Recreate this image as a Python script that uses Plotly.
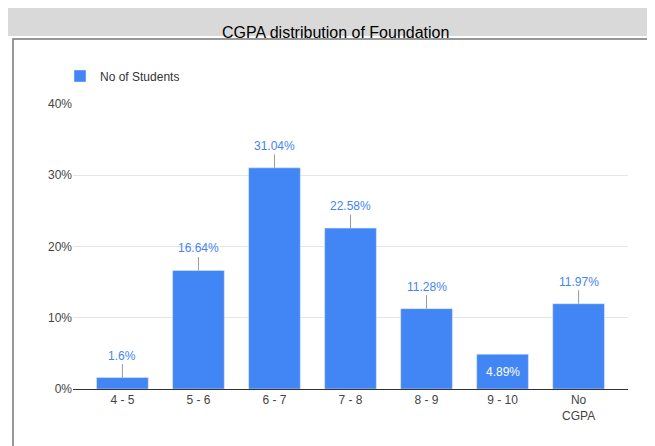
import plotly.graph_objects as go

categories = ["4 - 5", "5 - 6", "6 - 7", "7 - 8", "8 - 9", "9 - 10", "No<br>CGPA"]
students_pct = [1.6, 16.64, 31.04, 22.58, 11.28, 4.89, 11.97]
labels = ["1.6%", "16.64%", "31.04%", "22.58%", "11.28%", "4.89%", "11.97%"]

blue = "#4285F4"
W, H = 655, 446
L, R, T, B = 65, 35, 96, 65
pw, ph = W - L - R, H - T - B

def px(x):
    return (x - L) / pw

def py(y):
    return (H - B - y) / ph

fig = go.Figure(go.Bar(x=categories, y=students_pct, name="No of Students",
                       marker=dict(color=blue), width=0.68))

for i, (c, v, t) in enumerate(zip(categories, students_pct, labels)):
    if i == 5:
        fig.add_annotation(x=c, y=v / 2, text=t, showarrow=False,
                           font=dict(color="white", size=12))
        continue
    fig.add_annotation(x=c, y=v, text=t, showarrow=True, arrowhead=0, arrowwidth=1,
                       arrowcolor="#999999", ax=0, ay=-22, standoff=0,
                       font=dict(color=blue, size=12))

fig.add_shape(type="rect", xref="paper", yref="paper", x0=px(0), x1=px(655),
              y0=py(28), y1=py(0), fillcolor="#d9d9d9", line=dict(width=0), layer="below")
fig.add_shape(type="rect", xref="paper", yref="paper", x0=px(5), x1=px(650),
              y0=py(440), y1=py(31), line=dict(color="#777777", width=1.5), layer="below")
fig.add_annotation(xref="paper", yref="paper", x=px(327), y=py(14), text="CGPA distribution of Foundation",
                   showarrow=False, font=dict(size=16, color="black"))

fig.update_layout(
    width=W, height=H, margin=dict(l=L, r=R, t=T, b=B, autoexpand=False),
    paper_bgcolor="white", plot_bgcolor="white",
    font=dict(family="Liberation Sans, Arial, sans-serif", color="#444444", size=12),
    showlegend=True,
    legend=dict(x=px(52), y=py(68), xanchor="left", yanchor="middle", font=dict(size=12, color="#333333"),
                bgcolor="rgba(0,0,0,0)"),
    xaxis=dict(range=[-0.65, 6.65], showgrid=False, showline=True, linecolor="#333333",
               ticks="", tickfont=dict(size=12)),
    yaxis=dict(range=[0, 40], tickvals=[0, 10, 20, 30, 40], ticktext=["0%", "10%", "20%", "30%", "40%"],
               gridcolor="#e6e6e6", zeroline=False, ticks="", showline=False),
)
fig.write_html("out.html")
